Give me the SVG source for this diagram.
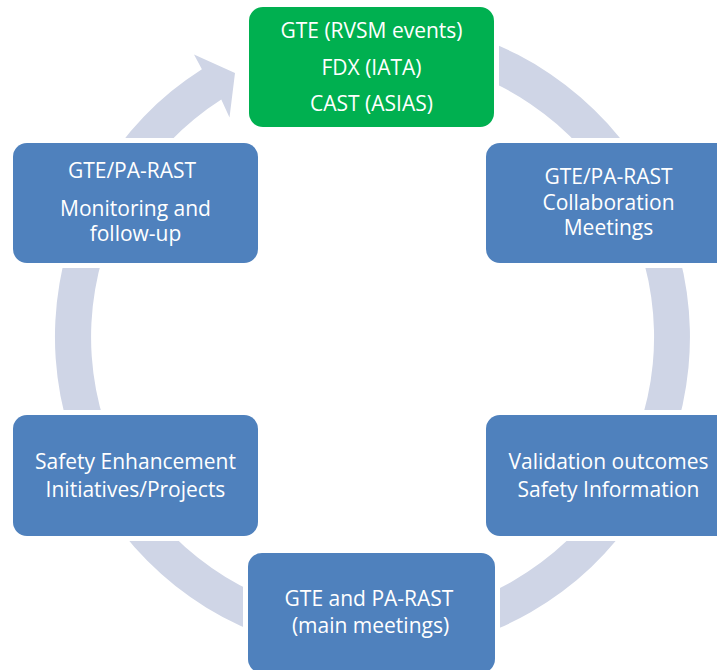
<svg xmlns="http://www.w3.org/2000/svg" width="717" height="670" viewBox="0 0 717 670">
<style>
.box{fill:#4F81BD;}
.green{fill:#00B050;}
.t{font-family:"Open Sans","Noto Sans","Liberation Sans",sans-serif;font-size:21px;fill:#FFFFFF;text-anchor:middle;}
.ring{fill:#CFD5E6;}
</style>
<defs>
<mask id="cut" maskUnits="userSpaceOnUse" x="0" y="0" width="717" height="670">
<rect x="0" y="0" width="717" height="670" fill="#fff"/>
<rect x="244" y="2" width="255" height="130" fill="#000"/>
<rect x="481" y="138" width="255" height="130" fill="#000"/>
<rect x="481" y="410" width="255" height="131" fill="#000"/>
<rect x="243" y="548" width="257" height="130" fill="#000"/>
<rect x="8" y="138" width="255" height="130" fill="#000"/>
<rect x="8" y="410" width="255" height="131" fill="#000"/>
</mask>
</defs>
<g id="connectors">
<path class="ring" mask="url(#cut)" d="M372.5 19.5 A317.5 317.5 0 1 1 201.9 69.2 L194 54.5 L235 73 L229.5 117.5 L221.3 99.6 A281.5 281.5 0 1 0 372.5 55.5 Z"/>
</g>
<g id="node-sources">
<rect class="green" x="249" y="7" width="245" height="120" rx="14"/>
<text class="t" x="371.5" y="38">GTE (RVSM events)</text>
<text class="t" x="371.5" y="75">FDX (IATA)</text>
<text class="t" x="371.5" y="111">CAST (ASIAS)</text>
</g>
<g id="node-collaboration">
<rect class="box" x="486" y="143" width="245" height="120" rx="14"/>
<text class="t" x="608.5" y="184">GTE/PA-RAST</text>
<text class="t" x="608.5" y="210">Collaboration</text>
<text class="t" x="608.5" y="235">Meetings</text>
</g>
<g id="node-validation">
<rect class="box" x="486" y="415" width="245" height="121" rx="14"/>
<text class="t" x="608.5" y="469">Validation outcomes</text>
<text class="t" x="608.5" y="497">Safety Information</text>
</g>
<g id="node-main-meetings">
<rect class="box" x="248" y="553" width="247" height="120" rx="14"/>
<text class="t" x="369" y="606">GTE and PA-RAST</text>
<text class="t" x="370.5" y="633">(main meetings)</text>
</g>
<g id="node-initiatives">
<rect class="box" x="13" y="415" width="245" height="121" rx="14"/>
<text class="t" x="135.5" y="469">Safety Enhancement</text>
<text class="t" x="135.5" y="497">Initiatives/Projects</text>
</g>
<g id="node-monitoring">
<rect class="box" x="13" y="143" width="245" height="120" rx="14"/>
<text class="t" x="132" y="178">GTE/PA-RAST</text>
<text class="t" x="135.5" y="216">Monitoring and</text>
<text class="t" x="135.5" y="241">follow-up</text>
</g>
</svg>
